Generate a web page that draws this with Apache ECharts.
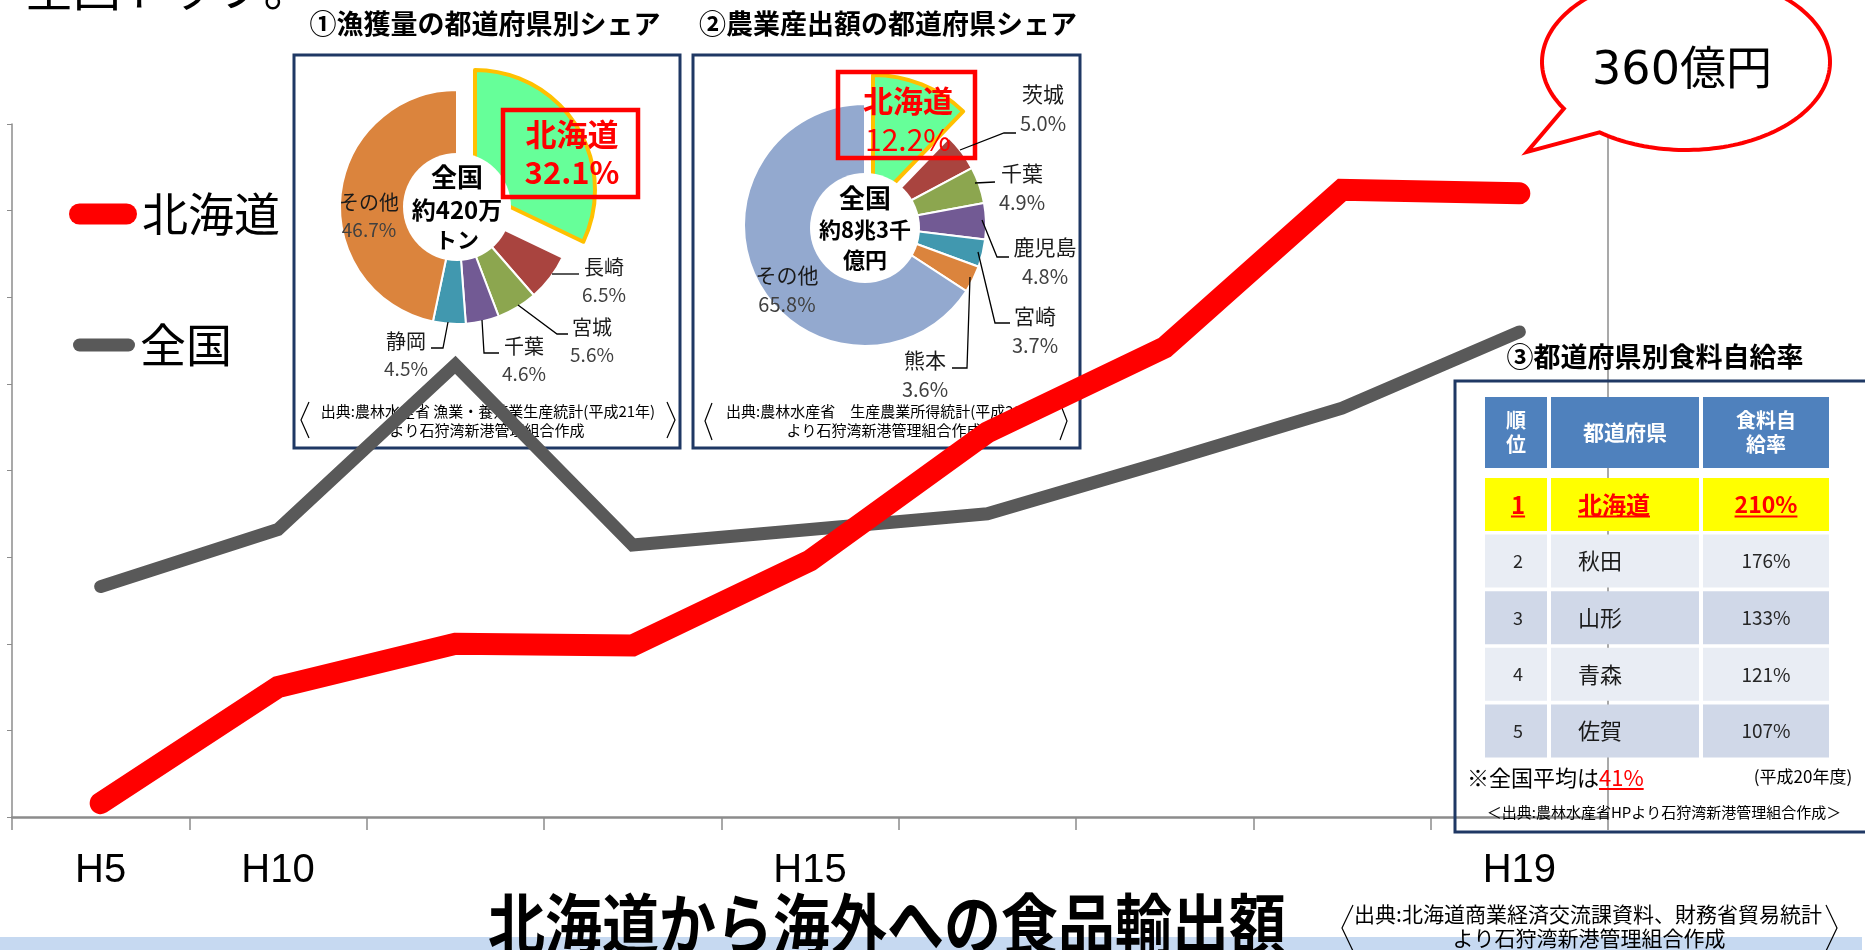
<!DOCTYPE html>
<html><head><meta charset="utf-8">
<script src="https://cdn.jsdelivr.net/npm/echarts@6/dist/echarts.min.js"></script>
<style>html,body{margin:0;padding:0;background:#fff}#c{width:1865px;height:950px}</style>
</head><body><div id="c"></div>
<script>
// ---------- data ----------
const years = ['H5', 'H10', '', '', 'H15', '', '', '', 'H19'];
const hokkaidoExport = [8, 75, 100, 99, 148, 222, 271, 362, 360];   // 億円
const nationalExport = [133, 166, 261, 157, 166, 175, 205, 236, 280];
const lineNames = ['北海道', '全国'];
const bubbleText = '360億円';

const fishPrefs = ['北海道', '長崎', '宮城', '千葉', '静岡', 'その他'];
const fishShare = [32.1, 6.5, 5.6, 4.6, 4.5, 46.7];
const fishCenter = ['全国', '約420万', 'トン'];

const farmPrefs = ['北海道', '茨城', '千葉', '鹿児島', '宮崎', '熊本', 'その他'];
const farmShare = [12.2, 5.0, 4.9, 4.8, 3.7, 3.6, 65.8];
const farmCenter = ['全国', '約8兆3千', '億円'];

const tableHeaders = ['順\n位', '都道府県', '食料自\n給率'];
const rankNo = [1, 2, 3, 4, 5];
const rankPref = ['北海道', '秋田', '山形', '青森', '佐賀'];
const rankRate = [210, 176, 133, 121, 107];
const nationalAvg = 41;

// ---------- styling ----------
const FONT = '"Noto Sans CJK JP", "Noto Sans", sans-serif';
const NARROW = '"Liberation Sans Narrow", "Liberation Sans", Arial, sans-serif';
const sliceColors1 = ['#66FF99', '#A9443F', '#8CA64F', '#725A94', '#4198AF', '#DB843D'];
const sliceColors2 = ['#66FF99', '#A9443F', '#8CA64F', '#725A94', '#4198AF', '#DB843D', '#93A9CF'];

const mctx = document.createElement('canvas').getContext('2d');
function tw(text, font) { mctx.font = font; return mctx.measureText(text).width; }

function T(text, x, y, size, o) {
  o = o || {};
  const font = (o.weight || 'normal') + ' ' + size + 'px ' + (o.family || FONT);
  const al = o.align || 'center', va = o.va || 'middle';
  const el = {
    type: 'text', z: o.z == null ? 10 : o.z, x: x, y: y, silent: true,
    style: { text: text, font: font, fill: o.color || '#000', align: al, textAlign: al,
      verticalAlign: va, textVerticalAlign: va }
  };
  if (o.lh) el.style.lineHeight = o.lh;
  if (o.scaleY) el.scaleY = o.scaleY;
  return el;
}
function R(x, y, w, h, fill, o) {
  o = o || {};
  return { type: 'rect', z: o.z == null ? 10 : o.z, silent: true, shape: { x: x, y: y, width: w, height: h },
    style: { fill: fill, stroke: o.stroke || null, lineWidth: o.lw || 0 } };
}
function P(points, o) {
  o = o || {};
  return { type: 'polyline', z: o.z == null ? 2 : o.z, silent: true, shape: { points: points },
    style: { stroke: o.color || '#000', lineWidth: o.lw || 1.3, fill: null } };
}

// ---------- pies ----------
function mainPie(prefs, shares, colors, center, radius, labelPos, rich) {
  return {
    type: 'pie', z: 1, silent: true, center: center, radius: [0, radius], startAngle: 90, clockwise: true,
    avoidLabelOverlap: false,
    itemStyle: { borderColor: '#fff', borderWidth: 2 },
    data: prefs.map((n, i) => ({
      name: n, value: shares[i],
      itemStyle: i === 0 ? { color: 'transparent', borderWidth: 0 } : { color: colors[i] },
      label: { show: i !== 0 }
    })),
    label: { show: true, position: 'outside', formatter: p => `{n|${p.name}}\n{p|${p.value.toFixed(1)}%}`, rich: rich },
    labelLine: { show: false },
    labelLayout: p => { const q = labelPos[p.dataIndex]; return q ? { x: q[0], y: q[1], align: 'center', verticalAlign: 'middle' } : {}; },
    emphasis: { disabled: true }
  };
}
function topPie(prefs, shares, center, radius, labelAt, rich) {
  const rest = shares.slice(1).reduce((a, b) => a + b, 0);
  return {
    type: 'pie', z: 1, silent: true, center: center, radius: [0, radius], startAngle: 90, clockwise: true,
    avoidLabelOverlap: false,
    data: [
      { name: prefs[0], value: shares[0], itemStyle: { color: '#66FF99', borderColor: '#FFC000', borderWidth: 4 } },
      { name: 'rest', value: rest, itemStyle: { color: 'transparent', borderWidth: 0 }, label: { show: false } }
    ],
    label: { show: true, position: 'outside', formatter: p => `{a|${p.name}}\n{b|${p.value.toFixed(1)}%}`, rich: rich },
    labelLine: { show: false },
    labelLayout: p => p.dataIndex === 0 ? { x: labelAt[0], y: labelAt[1], align: 'center', verticalAlign: 'middle' } : {},
    emphasis: { disabled: true }
  };
}
function centerPie(center, radius, lines, rich) {
  return {
    type: 'pie', z: 1, silent: true, center: center, radius: [0, radius],
    data: [{ name: lines[0], value: 1 }],
    itemStyle: { color: '#fff' },
    label: { show: true, position: 'center', formatter: `{a|${lines[0]}}\n{b|${lines[1]}}\n{c|${lines[2]}}`, rich: rich },
    labelLine: { show: false },
    emphasis: { disabled: true }
  };
}

const richSmall1 = { n: { fontSize: 20, color: '#1a1a1a', lineHeight: 27, fontFamily: FONT }, p: { fontSize: 19, color: '#404040', lineHeight: 27, fontFamily: FONT } };
const richSmall2 = { n: { fontSize: 21, color: '#1a1a1a', lineHeight: 29, fontFamily: FONT }, p: { fontSize: 20, color: '#404040', lineHeight: 29, fontFamily: FONT } };
const fishLabelPos = [null, [604, 281], [592, 341], [524, 360], [406, 355], [369, 216]];
const farmLabelPos = [null, [1043, 109], [1022, 188], [1045, 262], [1035, 331], [925, 375], [787, 290]];

// ---------- table graphic built from arrays ----------
const tableEls = [];
const colX = [1485, 1551, 1703], colW = [62, 148, 126];
const headY = 397, headH = 71, rowY0 = 478, rowStep = 56.6, rowH = 53;
tableHeaders.forEach((h, i) => {
  tableEls.push(R(colX[i], headY, colW[i], headH, '#4F81BD'));
  tableEls.push(T(h, colX[i] + colW[i] / 2, headY + headH / 2, i === 1 ? 21 : 20, { weight: 'bold', color: '#fff', lh: 24, z: 11 }));
});
rankPref.forEach((pref, r) => {
  const y = rowY0 + r * rowStep;
  const fill = r === 0 ? '#FFFF00' : (r % 2 ? '#E9EDF4' : '#D0D8E8');
  for (let c = 0; c < 3; c++) tableEls.push(R(colX[c], y, colW[c], rowH, fill));
  const cy = y + rowH / 2;
  const rateTxt = rankRate[r] + '%';
  if (r === 0) {
    const f = 24, red = '#FF0000';
    tableEls.push(T(String(rankNo[r]), 1518, cy, f, { weight: 'bold', color: red, z: 11 }));
    tableEls.push(T(pref, 1578, cy, f, { weight: 'bold', color: red, align: 'left', z: 11 }));
    tableEls.push(T(rateTxt, 1766, cy, 23, { weight: 'bold', color: red, z: 11 }));
    const w1 = tw(String(rankNo[r]), 'bold 24px ' + FONT), w2 = tw(pref, 'bold 24px ' + FONT), w3 = tw(rateTxt, 'bold 23px ' + FONT);
    tableEls.push(P([[1518 - w1 / 2, cy + 12], [1518 + w1 / 2, cy + 12]], { color: red, lw: 2, z: 11 }));
    tableEls.push(P([[1578, cy + 12], [1578 + w2, cy + 12]], { color: red, lw: 2, z: 11 }));
    tableEls.push(P([[1766 - w3 / 2, cy + 12], [1766 + w3 / 2, cy + 12]], { color: red, lw: 2, z: 11 }));
  } else {
    tableEls.push(T(String(rankNo[r]), 1518, cy, 18, { color: '#262626', z: 11 }));
    tableEls.push(T(pref, 1578, cy, 22, { color: '#1a1a1a', align: 'left', z: 11 }));
    tableEls.push(T(rateTxt, 1766, cy, 19, { color: '#262626', z: 11 }));
  }
});
const avgLead = '※全国平均は', avgTxt = nationalAvg + '%';
const leadW = tw(avgLead, 'normal 22px ' + FONT), avgW = tw(avgTxt, 'normal 22px ' + FONT);
tableEls.push(T(avgLead, 1467, 778, 22, { align: 'left', color: '#000' }));
tableEls.push(T(avgTxt, 1467 + leadW, 778, 22, { align: 'left', color: '#FF0000' }));
tableEls.push(P([[1467 + leadW, 789], [1467 + leadW + avgW, 789]], { color: '#FF0000', lw: 2, z: 10 }));
tableEls.push(T('(平成20年度)', 1803, 777, 17, { color: '#000' }));
tableEls.push(T('＜出典:農林水産省HPより石狩湾新港管理組合作成＞', 1664, 812, 15, { color: '#000' }));
tableEls.push({ type: 'rect', z: 10, silent: true, shape: { x: 1455, y: 381, width: 430, height: 451 }, style: { fill: null, stroke: '#1F3864', lineWidth: 3 } });

// ---------- speech bubble outline (ellipse arc + tail) ----------
const bub = { cx: 1686, cy: 62, rx: 144, ry: 88 };
const bubblePts = [];
(function () {
  const t1 = 126.9, t2 = 148 - 360;
  for (let t = t1; t >= t2; t -= 2) {
    const a = t * Math.PI / 180;
    bubblePts.push([bub.cx + bub.rx * Math.cos(a), bub.cy + bub.ry * Math.sin(a)]);
  }
  const a = t2 * Math.PI / 180;
  bubblePts.push([bub.cx + bub.rx * Math.cos(a), bub.cy + bub.ry * Math.sin(a)]);
  bubblePts.push([1527, 152]);
})();

// ---------- other annotation graphics ----------
const decor = [
  R(0, 937, 1862, 13, '#C6D9F1', { z: 0 }),
  R(294, 55, 386, 393, '#fff', { z: 0, stroke: '#1F3864', lw: 3 }),
  R(693, 55, 387, 393, '#fff', { z: 0, stroke: '#1F3864', lw: 3 }),
  { type: 'rect', z: 2, silent: true, shape: { x: 503, y: 110, width: 135, height: 87 }, style: { fill: null, stroke: '#FF0000', lineWidth: 4.5 } },
  { type: 'rect', z: 2, silent: true, shape: { x: 838, y: 72, width: 137, height: 86 }, style: { fill: null, stroke: '#FF0000', lineWidth: 4.5 } },
  T('全国トップ。', 25, -12, 48, { align: 'left' }),
  T('①漁獲量の都道府県別シェア', 485, 24, 27, { weight: 'bold' }),
  T('②農業産出額の都道府県シェア', 888, 24, 27, { weight: 'bold' }),
  T('③都道府県別食料自給率', 1655, 357, 27, { weight: 'bold' }),
  // leader lines pie 1
  P([[552, 274], [579, 274]]),
  P([[518, 305], [557, 334], [568, 334]]),
  P([[482, 320], [484, 353], [499, 353]]),
  P([[448, 322], [443, 348], [431, 348]]),
  // leader lines pie 2
  P([[960, 150], [1004, 133], [1016, 133]]),
  P([[975, 183], [995, 182]]),
  P([[982, 220], [997, 257], [1009, 257]]),
  P([[978, 252], [995, 323], [1010, 323]]),
  P([[970, 277], [967, 368], [952, 368]]),
  // sources
  T('出典:農林水産省 漁業・養殖業生産統計(平成21年)', 488, 411, 15, { z: 2 }),
  T('より石狩湾新港管理組合作成', 487, 430, 15, { z: 2 }),
  P([[309, 402], [301, 420], [309, 438]], { lw: 1.2 }),
  P([[667, 402], [675, 420], [667, 438]], { lw: 1.2 }),
  T('出典:農林水産省　生産農業所得統計(平成21年)', 884, 411, 15, { z: 2 }),
  T('より石狩湾新港管理組合作成', 884, 430, 15, { z: 2 }),
  P([[712, 403], [705, 421], [712, 440]], { lw: 1.2 }),
  P([[1060, 403], [1067, 421], [1060, 440]], { lw: 1.2 }),
  T('出典:北海道商業経済交流課資料、財務省貿易統計', 1588, 914, 21, { z: 10 }),
  T('より石狩湾新港管理組合作成', 1589, 938, 21, { z: 10 }),
  P([[1353, 905], [1342, 928], [1353, 951]], { lw: 1.2, z: 10 }),
  P([[1826, 905], [1837, 928], [1826, 951]], { lw: 1.2, z: 10 }),
  // bottom title
  T('北海道から海外への食品輸出額', 887, 891, 57, { weight: 'bold', va: 'top', scaleY: 1.15, z: 10 }),
  // speech bubble
  { type: 'polygon', z: 10, silent: true, shape: { points: bubblePts },
    style: { fill: '#fff', stroke: '#FF0000', lineWidth: 4, lineJoin: 'miter' } },
  T(bubbleText, 1682, 72, 46, { family: '"DejaVu Sans", "Noto Sans CJK JP", sans-serif', z: 11 })
];

const capsuleRed = 'path://M10.5,0H57.5A10.5,10.5,0,0,1,57.5,21H10.5A10.5,10.5,0,0,1,10.5,0Z';
const capsuleGray = 'path://M6.5,0H55.5A6.5,6.5,0,0,1,55.5,13H6.5A6.5,6.5,0,0,1,6.5,0Z';

const option = {
  backgroundColor: '#fff',
  animation: false,
  textStyle: { fontFamily: FONT },
  grid: { left: 12, right: 257, top: 124, bottom: 133 },
  xAxis: {
    type: 'category', data: years, boundaryGap: true,
    axisLine: { lineStyle: { color: '#8c8c8c', width: 2.5 } },
    axisTick: { show: true, length: 13, interval: 0, lineStyle: { color: '#8c8c8c', width: 1.5 } },
    axisLabel: { interval: 0, fontSize: 40, color: '#000', margin: 34, fontFamily: NARROW },
    splitLine: { show: false }
  },
  yAxis: [
    { type: 'value', min: 0, max: 400, interval: 50,
      axisLine: { show: true, lineStyle: { color: '#8c8c8c', width: 1.5 } },
      axisTick: { show: true, length: 5, lineStyle: { color: '#8c8c8c' } },
      axisLabel: { show: false }, splitLine: { show: false } },
    { type: 'value', position: 'right', min: 0, max: 400, interval: 50,
      axisLine: { show: true, lineStyle: { color: '#8c8c8c', width: 1.5 } },
      axisTick: { show: false }, axisLabel: { show: false }, splitLine: { show: false } }
  ],
  legend: [
    { data: [{ name: lineNames[0], icon: capsuleRed, itemStyle: { color: '#FF0000', borderWidth: 0 } }],
      left: 69, top: 191, padding: 0, itemWidth: 68, itemHeight: 21, selectedMode: false,
      textStyle: { fontSize: 46, color: '#000', lineHeight: 46, fontFamily: FONT } },
    { data: [{ name: lineNames[1], icon: capsuleGray, itemStyle: { color: '#595959', borderWidth: 0 } }],
      left: 73, top: 322, padding: 0, itemWidth: 62, itemHeight: 13, selectedMode: false,
      textStyle: { fontSize: 46, color: '#000', lineHeight: 46, fontFamily: FONT } }
  ],
  series: [
    mainPie(fishPrefs, fishShare, sliceColors1, [457, 207], 117, fishLabelPos, richSmall1),
    topPie(fishPrefs, fishShare, [475, 190], 120, [572, 153], {
      a: { fontSize: 31, fontWeight: 'bold', color: '#FF0000', lineHeight: 38, fontFamily: FONT },
      b: { fontSize: 31, fontWeight: 'bold', color: '#FF0000', lineHeight: 38, fontFamily: FONT } }),
    centerPie([457, 207], 54, fishCenter, {
      a: { fontSize: 26, fontWeight: 'bold', color: '#000', lineHeight: 33, fontFamily: FONT },
      b: { fontSize: 24, fontWeight: 'bold', color: '#000', lineHeight: 33, fontFamily: FONT },
      c: { fontSize: 22, fontWeight: 'bold', color: '#000', lineHeight: 27, fontFamily: FONT } }),
    mainPie(farmPrefs, farmShare, sliceColors2, [865, 225], 121, farmLabelPos, richSmall2),
    topPie(farmPrefs, farmShare, [873, 205], 130, [908, 120], {
      a: { fontSize: 30, fontWeight: 'bold', color: '#FF0000', lineHeight: 39, fontFamily: FONT },
      b: { fontSize: 30, color: '#FF0000', lineHeight: 39, fontFamily: FONT } }),
    centerPie([865, 228], 55, farmCenter, {
      a: { fontSize: 26, fontWeight: 'bold', color: '#000', lineHeight: 32, fontFamily: FONT },
      b: { fontSize: 22, fontWeight: 'bold', color: '#000', lineHeight: 32, fontFamily: FONT },
      c: { fontSize: 22, fontWeight: 'bold', color: '#000', lineHeight: 28, fontFamily: FONT } }),
    { type: 'line', name: lineNames[1], data: nationalExport, z: 3, symbol: 'none', silent: true,
      lineStyle: { color: '#595959', width: 13, cap: 'round', join: 'miter' }, itemStyle: { color: '#595959' } },
    { type: 'line', name: lineNames[0], data: hokkaidoExport, z: 4, symbol: 'none', silent: true,
      lineStyle: { color: '#FF0000', width: 22, cap: 'round', join: 'miter' }, itemStyle: { color: '#FF0000' } }
  ],
  graphic: { elements: decor.concat(tableEls) }
};

const chart = echarts.init(document.getElementById('c'), null, { renderer: 'canvas' });
chart.setOption(option);
</script>
</body></html>
